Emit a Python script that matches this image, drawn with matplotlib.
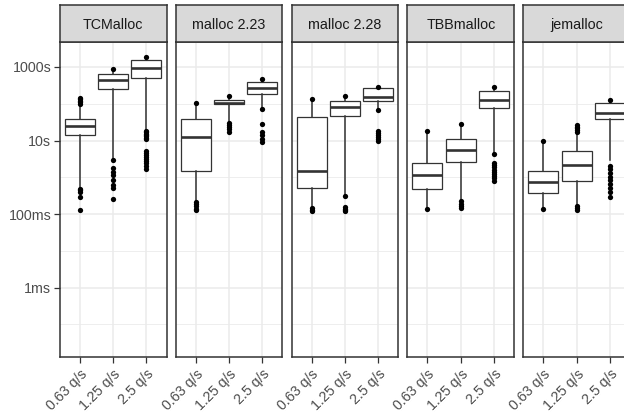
import numpy as np
import matplotlib
matplotlib.use("Agg")
import matplotlib.pyplot as plt

plt.rcParams['font.family'] = ['Liberation Sans', 'DejaVu Sans']

# facets and categories
allocators = ["TCMalloc", "malloc 2.23", "malloc 2.28", "TBBmalloc", "jemalloc"]
rates = ["0.63 q/s", "1.25 q/s", "2.5 q/s"]

# box statistics, log10(seconds), one row per allocator, one column per rate
q1 = [[1.14, 2.40, 2.69],
      [0.16, 1.98, 2.27],
      [-0.29, 1.68, 2.075],
      [-0.31, 0.42, 1.885],
      [-0.43, -0.11, 1.595]]
med = [[1.40, 2.655, 2.97],
       [1.09, 2.03, 2.44],
       [0.16, 1.91, 2.18],
       [0.07, 0.75, 2.09],
       [-0.14, 0.33, 1.75]]
q3 = [[1.586, 2.81, 3.18],
      [1.586, 2.09, 2.59],
      [1.65, 2.07, 2.42],
      [0.39, 1.04, 2.34],
      [0.16, 0.71, 2.02]]
whis_hi = [[1.98, 2.90, 3.24],
           [2.00, 2.18, 2.63],
           [2.08, 2.18, 2.43],
           [1.22, 1.40, 2.42],
           [0.95, 1.20, 2.08]]
whis_lo = [[-0.30, 0.50, 1.28],
           [-0.65, 1.50, 1.88],
           [-0.80, -0.50, 1.84],
           [-0.82, -0.62, 0.64],
           [-0.83, -0.77, 0.46]]
outliers = [
    [[2.16, 2.12, 2.08, 2.04, 2.00, -0.33, -0.36, -0.40, -0.53, -0.89],
     [2.955, 0.48, 0.25, 0.14, 0.07, -0.08, -0.20, -0.29, -0.58],
     [3.28, 1.25, 1.22, 1.19, 1.16, 1.12, 1.08, 1.04, 0.71, 0.66, 0.61,
      0.56, 0.50, 0.44, 0.38, 0.30, 0.23]],
    [[2.03, -0.68, -0.73, -0.79, -0.85, -0.88],
     [2.22, 1.48, 1.42, 1.36, 1.30, 1.23],
     [2.66, 1.86, 1.45, 1.23, 1.14, 1.05, 0.96]],
    [[2.12, -0.83, -0.88, -0.93],
     [2.22, -0.52, -0.80, -0.85, -0.90, -0.93],
     [2.45, 1.82, 1.25, 1.20, 1.15, 1.10, 1.05, 1.00]],
    [[1.25, -0.85],
     [1.45, -0.65, -0.72, -0.78, -0.83],
     [2.45, 0.62, 0.39, 0.33, 0.27, 0.21, 0.15, 0.09, 0.03, -0.03, -0.11]],
    [[0.98, -0.86],
     [1.43, 1.38, 1.33, 1.28, 1.23, -0.79, -0.84, -0.88],
     [2.11, 0.30, 0.22, 0.12, 0.02, -0.08, -0.18, -0.28, -0.40, -0.54]],
]

ytick_vals = [1e-3, 1e-1, 1e1, 1e3]
ytick_labels = ["1ms", "100ms", "10s", "1000s"]
yminor_vals = [1e-4, 1e-2, 1e0, 1e2]

W, H = 624, 413
fig = plt.figure(figsize=(W / 100, H / 100), dpi=100)

dark = "#333333"
grid = "#EBEBEB"
panel_left = [59.7, 175.6, 291.5, 407.4, 523.3]
panel_w = 106.8
top, bottom, strip_top = 42, 357, 5

for i, name in enumerate(allocators):
    ax = fig.add_axes([panel_left[i] / W, 1 - bottom / H, panel_w / W, (bottom - top) / H])
    strip = fig.add_axes([panel_left[i] / W, 1 - top / H, panel_w / W, (top - strip_top) / H])

    stats = []
    for j in range(3):
        stats.append(dict(q1=10 ** q1[i][j], med=10 ** med[i][j], q3=10 ** q3[i][j],
                          whislo=10 ** whis_lo[i][j], whishi=10 ** whis_hi[i][j],
                          fliers=10 ** np.array(outliers[i][j])))
    ax.bxp(stats, positions=[1, 2, 3], widths=0.9, showcaps=False, patch_artist=True,
           boxprops=dict(facecolor="white", edgecolor=dark, linewidth=0.9),
           medianprops=dict(color=dark, linewidth=1.9),
           whiskerprops=dict(color=dark, linewidth=1.1),
           flierprops=dict(marker="o", markerfacecolor="black", markeredgecolor="black",
                           markersize=3.8, markeredgewidth=0))

    ax.set_yscale("log")
    ax.set_ylim(10 ** -4.89, 10 ** 3.68)
    ax.set_xlim(0.4, 3.6)
    ax.set_yticks(ytick_vals)
    ax.set_yticks(yminor_vals, minor=True)
    ax.set_xticks([1, 2, 3])
    for v in ytick_vals:
        ax.axhline(v, color=grid, linewidth=1.1, zorder=0)
    for v in yminor_vals:
        ax.axhline(v, color=grid, linewidth=0.6, zorder=0)
    for x in [1, 2, 3]:
        ax.axvline(x, color=grid, linewidth=1.1, zorder=0)

    ax.set_xticklabels(rates, rotation=45, ha="right", va="top",
                       rotation_mode="anchor", fontsize=10.3, color="#4D4D4D")
    ax.tick_params(axis="x", length=4, width=0.9, color=dark, pad=3)
    ax.tick_params(axis="y", which="minor", length=0, labelleft=False)
    if i == 0:
        ax.set_yticklabels(ytick_labels, fontsize=10.3, color="#4D4D4D")
        ax.tick_params(axis="y", which="major", length=4, width=0.9, color=dark, pad=2)
    else:
        ax.tick_params(axis="y", which="major", length=0, labelleft=False)
    for s in ax.spines.values():
        s.set_color(dark)
        s.set_linewidth(1.1)

    strip.set_facecolor("#D9D9D9")
    strip.set_xticks([])
    strip.set_yticks([])
    for s in strip.spines.values():
        s.set_color(dark)
        s.set_linewidth(1.1)
    strip.text(0.5, 0.45, name, ha="center", va="center", fontsize=10.3,
               color="#1A1A1A", transform=strip.transAxes)

fig.savefig("out.png", dpi=100)
